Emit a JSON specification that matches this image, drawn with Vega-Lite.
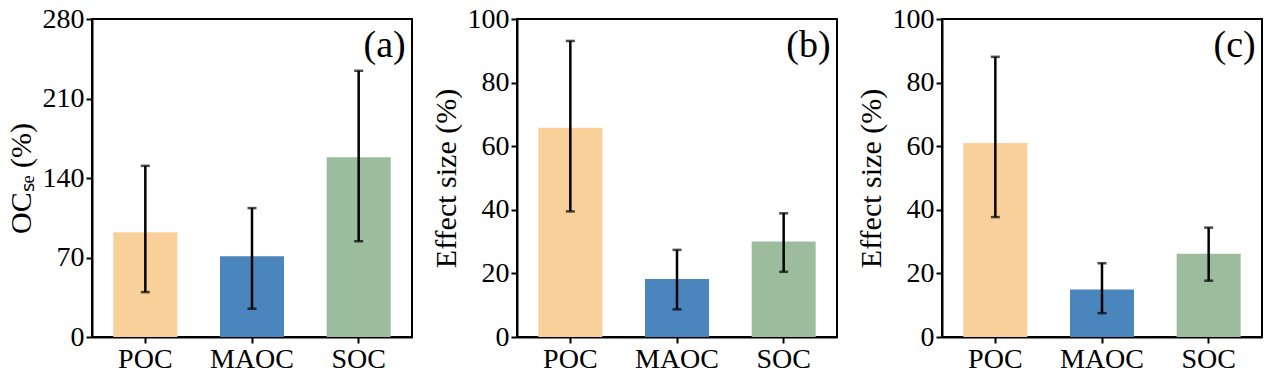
{
  "$schema": "https://vega.github.io/schema/vega-lite/v6.json",
  "background": "white",
  "padding": {"left": 5, "top": 4, "right": 0, "bottom": 0},
  "bounds": "flush",
  "spacing": 105,
  "config": {
    "font": "Liberation Serif",
    "view": {"stroke": "black", "strokeWidth": 2},
    "style": {"guide-label": {"font": "Liberation Serif"}, "guide-title": {"font": "Liberation Serif"}},
    "axis": {
      "labelFont": "Liberation Serif", "labelFontSize": 28, "labelColor": "black",
      "titleFont": "Liberation Serif", "titleFontSize": 30, "titleFontWeight": "normal", "titleColor": "black",
      "tickColor": "black", "tickWidth": 2, "tickSize": 6,
      "domainColor": "black", "domainWidth": 2, "grid": false, "labelPadding": 2
    },
    "axisY": {"labelFont": "Liberation Serif", "titleFont": "Liberation Serif"},
    "axisLeft": {"labelFont": "Liberation Serif", "titleFont": "Liberation Serif"},
    "axisQuantitative": {"labelFont": "Liberation Serif", "titleFont": "Liberation Serif"},
    "text": {"font": "Liberation Serif"}
  },
  "data": {"values": [
    {"panel": "a", "cat": "POC", "value": 92.2, "lo": 39.5, "hi": 150.7},
    {"panel": "a", "cat": "MAOC", "value": 71.1, "lo": 24.9, "hi": 113.5},
    {"panel": "a", "cat": "SOC", "value": 158.3, "lo": 84.3, "hi": 234.4},
    {"panel": "b", "cat": "POC", "value": 65.8, "lo": 39.5, "hi": 93.1},
    {"panel": "b", "cat": "MAOC", "value": 18.2, "lo": 8.7, "hi": 27.4},
    {"panel": "b", "cat": "SOC", "value": 30.0, "lo": 20.5, "hi": 38.9},
    {"panel": "c", "cat": "POC", "value": 61.0, "lo": 37.7, "hi": 88.1},
    {"panel": "c", "cat": "MAOC", "value": 14.9, "lo": 7.5, "hi": 23.2},
    {"panel": "c", "cat": "SOC", "value": 26.2, "lo": 17.7, "hi": 34.4}
  ]},
  "hconcat": [
    {
      "width": 320, "height": 318,
      "transform": [{"filter": "datum.panel === 'a'"}],
      "encoding": {
        "x": {"field": "cat", "type": "nominal", "sort": ["POC", "MAOC", "SOC"], "scale": {"paddingInner": 0.4, "paddingOuter": 0.2}, "axis": {"title": null, "labelAngle": 0, "labelFont": "Liberation Serif", "labelFontSize": 28}}
      },
      "layer": [
        {"mark": {"type": "bar"},
         "encoding": {
           "y": {"field": "value", "type": "quantitative", "scale": {"domain": [0, 280], "nice": false}, "axis": {"title": "OCₛₑ (%)", "values": [0, 70, 140, 210, 280], "titlePadding": 6, "labelFont": "Liberation Serif", "titleFont": "Liberation Serif", "labelFontSize": 28, "titleFontSize": 30}},
           "color": {"field": "cat", "type": "nominal", "scale": {"domain": ["POC", "MAOC", "SOC"], "range": ["#FAD09A", "#4A85BE", "#9BBD9E"]}, "legend": null}
         }},
        {"mark": {"type": "rule", "color": "black", "strokeWidth": 2.5},
         "encoding": {"y": {"field": "lo", "type": "quantitative", "axis": {"labelFont": "Liberation Serif", "titleFont": "Liberation Serif"}}, "y2": {"field": "hi"}}},
        {"mark": {"type": "tick", "color": "black", "thickness": 2.5, "size": 9},
         "encoding": {"y": {"field": "lo", "type": "quantitative", "axis": {"labelFont": "Liberation Serif", "titleFont": "Liberation Serif"}}}},
        {"mark": {"type": "tick", "color": "black", "thickness": 2.5, "size": 9},
         "encoding": {"y": {"field": "hi", "type": "quantitative", "axis": {"labelFont": "Liberation Serif", "titleFont": "Liberation Serif"}}}},
        {"data": {"values": [{"tag": "(a)"}]},
         "mark": {"type": "text", "font": "Liberation Serif", "fontSize": 38, "align": "right", "baseline": "top", "dx": 47, "dy": 8, "color": "black"},
         "encoding": {"x": {"datum": "SOC"}, "y": {"datum": 280}, "text": {"field": "tag"}}}
      ]
    },
    {
      "width": 320, "height": 318,
      "transform": [{"filter": "datum.panel === 'b'"}],
      "encoding": {
        "x": {"field": "cat", "type": "nominal", "sort": ["POC", "MAOC", "SOC"], "scale": {"paddingInner": 0.4, "paddingOuter": 0.2}, "axis": {"title": null, "labelAngle": 0, "labelFont": "Liberation Serif", "labelFontSize": 28}}
      },
      "layer": [
        {"mark": {"type": "bar"},
         "encoding": {
           "y": {"field": "value", "type": "quantitative", "scale": {"domain": [0, 100], "nice": false}, "axis": {"title": "Effect size (%)", "values": [0, 20, 40, 60, 80, 100], "titlePadding": 6, "labelFont": "Liberation Serif", "titleFont": "Liberation Serif", "labelFontSize": 28, "titleFontSize": 30}},
           "color": {"field": "cat", "type": "nominal", "scale": {"domain": ["POC", "MAOC", "SOC"], "range": ["#FAD09A", "#4A85BE", "#9BBD9E"]}, "legend": null}
         }},
        {"mark": {"type": "rule", "color": "black", "strokeWidth": 2.5},
         "encoding": {"y": {"field": "lo", "type": "quantitative", "axis": {"labelFont": "Liberation Serif", "titleFont": "Liberation Serif"}}, "y2": {"field": "hi"}}},
        {"mark": {"type": "tick", "color": "black", "thickness": 2.5, "size": 9},
         "encoding": {"y": {"field": "lo", "type": "quantitative", "axis": {"labelFont": "Liberation Serif", "titleFont": "Liberation Serif"}}}},
        {"mark": {"type": "tick", "color": "black", "thickness": 2.5, "size": 9},
         "encoding": {"y": {"field": "hi", "type": "quantitative", "axis": {"labelFont": "Liberation Serif", "titleFont": "Liberation Serif"}}}},
        {"data": {"values": [{"tag": "(b)"}]},
         "mark": {"type": "text", "font": "Liberation Serif", "fontSize": 38, "align": "right", "baseline": "top", "dx": 47, "dy": 8, "color": "black"},
         "encoding": {"x": {"datum": "SOC"}, "y": {"datum": 100}, "text": {"field": "tag"}}}
      ]
    },
    {
      "width": 320, "height": 318,
      "transform": [{"filter": "datum.panel === 'c'"}],
      "encoding": {
        "x": {"field": "cat", "type": "nominal", "sort": ["POC", "MAOC", "SOC"], "scale": {"paddingInner": 0.4, "paddingOuter": 0.2}, "axis": {"title": null, "labelAngle": 0, "labelFont": "Liberation Serif", "labelFontSize": 28}}
      },
      "layer": [
        {"mark": {"type": "bar"},
         "encoding": {
           "y": {"field": "value", "type": "quantitative", "scale": {"domain": [0, 100], "nice": false}, "axis": {"title": "Effect size (%)", "values": [0, 20, 40, 60, 80, 100], "titlePadding": 6, "labelFont": "Liberation Serif", "titleFont": "Liberation Serif", "labelFontSize": 28, "titleFontSize": 30}},
           "color": {"field": "cat", "type": "nominal", "scale": {"domain": ["POC", "MAOC", "SOC"], "range": ["#FAD09A", "#4A85BE", "#9BBD9E"]}, "legend": null}
         }},
        {"mark": {"type": "rule", "color": "black", "strokeWidth": 2.5},
         "encoding": {"y": {"field": "lo", "type": "quantitative", "axis": {"labelFont": "Liberation Serif", "titleFont": "Liberation Serif"}}, "y2": {"field": "hi"}}},
        {"mark": {"type": "tick", "color": "black", "thickness": 2.5, "size": 9},
         "encoding": {"y": {"field": "lo", "type": "quantitative", "axis": {"labelFont": "Liberation Serif", "titleFont": "Liberation Serif"}}}},
        {"mark": {"type": "tick", "color": "black", "thickness": 2.5, "size": 9},
         "encoding": {"y": {"field": "hi", "type": "quantitative", "axis": {"labelFont": "Liberation Serif", "titleFont": "Liberation Serif"}}}},
        {"data": {"values": [{"tag": "(c)"}]},
         "mark": {"type": "text", "font": "Liberation Serif", "fontSize": 38, "align": "right", "baseline": "top", "dx": 47, "dy": 8, "color": "black"},
         "encoding": {"x": {"datum": "SOC"}, "y": {"datum": 100}, "text": {"field": "tag"}}}
      ]
    }
  ]
}
